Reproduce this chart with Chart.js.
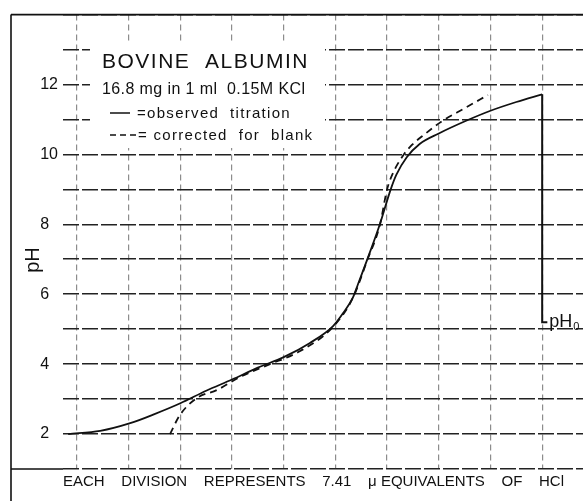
<!DOCTYPE html>
<html>
<head>
<meta charset="utf-8">
<title>Bovine albumin titration</title>
<script src="https://cdn.jsdelivr.net/npm/chart.js@4.4.1/dist/chart.umd.min.js"></script>
<style>
  html, body { margin: 0; padding: 0; background: #fff; }
  #wrap { width: 583px; height: 501px; position: relative; }
</style>
</head>
<body>
<div id="wrap"><canvas id="titrationChart"></canvas></div>
<script>
// x = chart divisions (each division = 7.41 µeq HCl), y = pH
const observedX  = [0.83, 1.45, 2.03, 2.5, 3.0, 3.5, 4.0, 4.5, 5.0, 5.5, 5.95, 6.15, 6.34, 6.44, 6.61, 6.86, 7.07, 7.18, 7.38, 7.63, 8.0, 8.54, 9.0, 9.5, 10.0];
const observedPH = [2.0, 2.09, 2.31, 2.57, 2.88, 3.24, 3.56, 3.9, 4.2, 4.6, 5.08, 5.46, 5.91, 6.3, 6.97, 8.0, 9.0, 9.42, 9.92, 10.3, 10.6, 10.97, 11.25, 11.5, 11.72];

const correctedX  = [2.8, 2.99, 3.32, 3.71, 4.15, 4.7, 5.3, 5.95, 6.34, 6.61, 6.86, 7.0, 7.1, 7.3, 7.48, 7.73, 8.06, 8.5, 8.95];
const correctedPH = [2.0, 2.54, 3.03, 3.26, 3.63, 3.98, 4.36, 5.06, 5.9, 6.95, 7.98, 9.0, 9.42, 9.95, 10.27, 10.58, 10.95, 11.32, 11.7];

// end of titration dropped to the pH0 mark
const pH0X = [10, 10, 10.1];
const pH0Y = [11.72, 5.2, 5.2];

const yTickLabels = [2, 4, 6, 8, 10, 12];
const xAxisText = 'EACH    DIVISION    REPRESENTS    7.41    \u03bc EQUIVALENTS    OF    HCl';

const FONT = '"Liberation Sans", Arial, sans-serif';

function toPoints(xs, ys) {
  return xs.map((x, i) => ({ x: x, y: ys[i] }));
}

// caption, frame and labels drawn straight on the canvas
const paperPlugin = {
  id: 'paper',
  beforeDraw(chart) {
    const ctx = chart.ctx;
    ctx.save();
    ctx.fillStyle = '#fff';
    ctx.fillRect(0, 0, chart.width, chart.height);
    ctx.restore();
  },
  beforeDatasetsDraw(chart) {
    const { ctx, chartArea } = chart;
    ctx.save();

    // blank patch behind the caption
    ctx.fillStyle = '#fff';
    ctx.fillRect(90, 42, 235, 106);

    // frame
    ctx.strokeStyle = '#111';
    ctx.lineWidth = 1.6;
    ctx.beginPath();
    ctx.moveTo(11, chartArea.top);
    ctx.lineTo(chartArea.right, chartArea.top);
    ctx.moveTo(11, chartArea.top);
    ctx.lineTo(11, chart.height);
    ctx.moveTo(11, chartArea.bottom);
    ctx.lineTo(chartArea.left, chartArea.bottom);
    ctx.stroke();

    ctx.fillStyle = '#111';
    ctx.textBaseline = 'alphabetic';
    ctx.textAlign = 'left';

    ctx.font = '21px ' + FONT;
    ctx.letterSpacing = '1.5px';
    ctx.fillText('BOVINE  ALBUMIN', 102, 68);

    ctx.font = '16px ' + FONT;
    ctx.letterSpacing = '0.4px';
    ctx.fillText('16.8 mg in 1 ml  0.15M KCl', 102, 94);

    ctx.font = '15px ' + FONT;
    ctx.letterSpacing = '1.3px';
    ctx.fillText('=observed  titration', 137, 118);
    ctx.fillText('= corrected  for  blank', 138, 140);

    ctx.lineWidth = 1.5;
    ctx.beginPath();
    ctx.moveTo(110, 113);
    ctx.lineTo(130, 113);
    ctx.stroke();
    ctx.setLineDash([6, 4]);
    ctx.beginPath();
    ctx.moveTo(110, 135);
    ctx.lineTo(138, 135);
    ctx.stroke();
    ctx.setLineDash([]);

    // y axis name
    ctx.letterSpacing = '0px';
    ctx.font = '20px ' + FONT;
    ctx.textAlign = 'center';
    ctx.textBaseline = 'middle';
    ctx.translate(33, 260);
    ctx.rotate(-Math.PI / 2);
    ctx.fillText('pH', 0, 0);
    ctx.restore();

    // pH0 label next to the drop line
    const y0 = chart.scales.y.getPixelForValue(pH0Y[1]);
    const x0 = chart.scales.x.getPixelForValue(pH0X[2]);
    ctx.save();
    ctx.fillStyle = '#111';
    ctx.textBaseline = 'middle';
    ctx.font = '18px ' + FONT;
    ctx.fillText('pH', x0 + 2, y0);
    ctx.font = '11px ' + FONT;
    ctx.fillText('0', x0 + 26, y0 + 5);
    ctx.restore();
  }
};

document.addEventListener('DOMContentLoaded', () => {
  const ctx = document.getElementById('titrationChart').getContext('2d');
  new Chart(ctx, {
    type: 'line',
    data: {
      datasets: [{
        label: 'observed titration',
        data: toPoints(observedX, observedPH),
        borderColor: '#111',
        borderWidth: 1.8,
        pointRadius: 0,
        cubicInterpolationMode: 'monotone',
        fill: false
      }, {
        label: 'corrected for blank',
        data: toPoints(correctedX, correctedPH),
        borderColor: '#111',
        borderWidth: 1.8,
        borderDash: [7, 5],
        pointRadius: 0,
        cubicInterpolationMode: 'monotone',
        fill: false
      }, {
        label: 'pH0',
        data: toPoints(pH0X, pH0Y),
        borderColor: '#111',
        borderWidth: 2,
        pointRadius: 0,
        tension: 0,
        fill: false
      }]
    },
    options: {
      responsive: true,
      maintainAspectRatio: false,
      animation: false,
      layout: { padding: { top: 12, right: 0, bottom: 0, left: 0 } },
      plugins: {
        legend: { display: false },
        tooltip: { enabled: false }
      },
      scales: {
        x: {
          type: 'linear',
          min: 0.73,
          max: 10.79,
          afterFit: (scale) => { scale.height = 32; },
          ticks: { display: false, stepSize: 1, includeBounds: false },
          grid: { color: '#8c8c8c', lineWidth: 1.2, drawTicks: false },
          border: { display: false, dash: [6, 4] },
          title: {
            display: true,
            text: xAxisText,
            align: 'start',
            color: '#111',
            font: { family: FONT, size: 15 },
            padding: { top: 0, bottom: 10 }
          }
        },
        y: {
          min: 1,
          max: 14,
          afterFit: (scale) => { scale.width = 63; },
          ticks: {
            stepSize: 1,
            autoSkip: false,
            color: '#111',
            padding: 5,
            font: { family: FONT, size: 16 },
            callback: (v) => {
              if (!yTickLabels.includes(v)) return '';
              return v < 10 ? v + '  ' : String(v);
            }
          },
          grid: { color: '#222', lineWidth: 1.6, drawTicks: false },
          border: { display: false, dash: [16, 3] }
        }
      }
    },
    plugins: [paperPlugin]
  });
});
</script>
</body>
</html>
